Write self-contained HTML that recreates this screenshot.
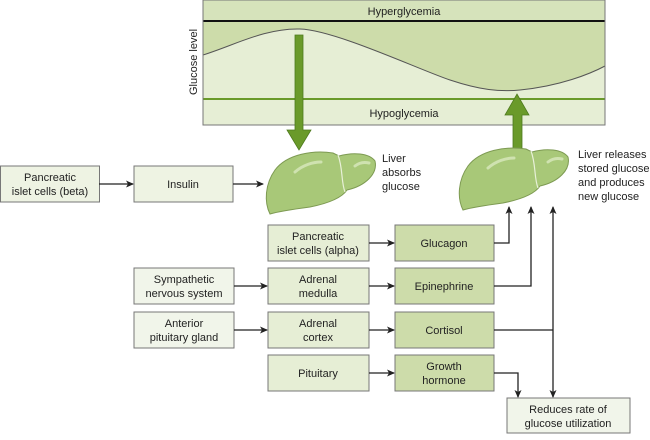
<!DOCTYPE html>
<html><head><style>
html,body{margin:0;padding:0;background:#fff;}
svg text{font-family:"Liberation Sans",sans-serif;font-size:11px;fill:#222;}
</style></head><body>
<svg width="650" height="435" viewBox="0 0 650 435" xmlns="http://www.w3.org/2000/svg">
<defs>
<marker id="a" markerWidth="8" markerHeight="8" refX="7" refY="4" orient="auto" markerUnits="userSpaceOnUse">
<path d="M0,0.5 L8,4 L0,7.5 L2,4 Z" fill="#222"/></marker>
<g id="liver">
<path d="M10,20 C22,4 48,0 68,3 L74,6 C88,2 104,3 110,11 C113,24 100,36 82,40 C76,49 60,54 45,57 C30,59 15,61 5,64 C-1,52 0,34 10,20 Z" fill="#a8c878" stroke="#7d9a52" stroke-width="1"/>
<path d="M73,5 C78,18 76,32 80,42" fill="none" stroke="#e8f0d8" stroke-width="1.2"/>
<path d="M30,22 C38,15 48,12 56,12" fill="none" stroke="#cfe2b0" stroke-width="3" stroke-linecap="round"/>
<path d="M90,16 C95,12 100,12 104,13" fill="none" stroke="#cfe2b0" stroke-width="3" stroke-linecap="round"/>
</g>
</defs>
<rect x="203" y="0" width="402" height="125" fill="#e6eed5" stroke="#777" stroke-width="1"/>
<rect x="203.5" y="0.5" width="401" height="20" fill="#d6e3bb"/>
<rect x="203.5" y="99" width="401" height="25.5" fill="#e6eed5"/>
<path d="M203,21 L203,55 C235,45 265,28 300,29 C335,30 420,70 450,80 C480,90 500,92 520,90 C560,86 590,74 605,66 L605,21 Z" fill="#cddcaa"/>
<path d="M203,55 C235,45 265,28 300,29 C335,30 420,70 450,80 C480,90 500,92 520,90 C560,86 590,74 605,66" fill="none" stroke="#555" stroke-width="1"/>
<line x1="203" y1="21" x2="605" y2="21" stroke="#111" stroke-width="2"/>
<line x1="203" y1="99" x2="605" y2="99" stroke="#6a9a2a" stroke-width="2"/>
<rect x="203" y="0" width="402" height="125" fill="none" stroke="#777" stroke-width="1"/>
<text x="404" y="15" text-anchor="middle">Hyperglycemia</text>
<text x="404" y="117" text-anchor="middle">Hypoglycemia</text>
<text transform="translate(197,62) rotate(-90)" text-anchor="middle">Glucose level</text>
<path d="M295,35 L303,35 L303,130 L311,130 L299,150 L287,130 L295,130 Z" fill="#6a9a2a" stroke="#4e7a1e" stroke-width="0.8"/>
<path d="M513,150 L522,150 L522,115 L529,115 L517,94 L505,115 L513,115 Z" fill="#6a9a2a" stroke="#4e7a1e" stroke-width="0.8"/>
<use href="#liver" transform="translate(265,150)"/>
<use href="#liver" transform="translate(458,146)"/>
<text x="382" y="162">Liver</text><text x="382" y="176">absorbs</text><text x="382" y="190">glucose</text>
<text x="578" y="158">Liver releases</text><text x="578" y="172">stored glucose</text><text x="578" y="186">and produces</text><text x="578" y="200">new glucose</text>
<g stroke="#777" stroke-width="1">
<rect x="0.5" y="166" width="99" height="36" fill="#eef3e3"/>
<rect x="134" y="166" width="99" height="36" fill="#eef3e3"/>
<rect x="134" y="268" width="100" height="36" fill="#f1f5ea"/>
<rect x="134" y="312" width="100" height="36" fill="#f1f5ea"/>
<rect x="268" y="225" width="101" height="36" fill="#e6eed5"/>
<rect x="268" y="268" width="101" height="36" fill="#e6eed5"/>
<rect x="268" y="312" width="101" height="36" fill="#e6eed5"/>
<rect x="268" y="355" width="101" height="36" fill="#e6eed5"/>
<rect x="395" y="225" width="99" height="36" fill="#cddcaa"/>
<rect x="395" y="268" width="99" height="36" fill="#cddcaa"/>
<rect x="395" y="312" width="99" height="36" fill="#cddcaa"/>
<rect x="395" y="355" width="99" height="36" fill="#cddcaa"/>
<rect x="507" y="398" width="123" height="35" fill="#f1f5ea"/>
</g>
<g text-anchor="middle">
<text x="50" y="181">Pancreatic</text><text x="50" y="195">islet cells (beta)</text>
<text x="183" y="188">Insulin</text>
<text x="184" y="283">Sympathetic</text><text x="184" y="297">nervous system</text>
<text x="184" y="327">Anterior</text><text x="184" y="341">pituitary gland</text>
<text x="318" y="240">Pancreatic</text><text x="318" y="254">islet cells (alpha)</text>
<text x="318" y="283">Adrenal</text><text x="318" y="297">medulla</text>
<text x="318" y="327">Adrenal</text><text x="318" y="341">cortex</text>
<text x="318" y="377">Pituitary</text>
<text x="444" y="247">Glucagon</text>
<text x="444" y="290">Epinephrine</text>
<text x="444" y="334">Cortisol</text>
<text x="444" y="370">Growth</text><text x="444" y="384">hormone</text>
<text x="568" y="413">Reduces rate of</text><text x="568" y="427">glucose utilization</text>
</g>
<g stroke="#222" stroke-width="1.3" fill="none">
<line x1="99" y1="184" x2="133" y2="184" marker-end="url(#a)"/>
<line x1="233" y1="184" x2="263" y2="184" marker-end="url(#a)"/>
<line x1="234" y1="286" x2="267" y2="286" marker-end="url(#a)"/>
<line x1="234" y1="330" x2="267" y2="330" marker-end="url(#a)"/>
<line x1="369" y1="243" x2="394" y2="243" marker-end="url(#a)"/>
<line x1="369" y1="286" x2="394" y2="286" marker-end="url(#a)"/>
<line x1="369" y1="330" x2="394" y2="330" marker-end="url(#a)"/>
<line x1="369" y1="373" x2="394" y2="373" marker-end="url(#a)"/>
<polyline points="494,243 509,243 509,207" marker-end="url(#a)"/>
<polyline points="494,286 531,286 531,207" marker-end="url(#a)"/>
<line x1="494" y1="330" x2="553" y2="330"/>
<line x1="553" y1="330" x2="553" y2="207" marker-end="url(#a)"/>
<line x1="553" y1="330" x2="553" y2="397" marker-end="url(#a)"/>
<polyline points="494,373 518,373 518,397" marker-end="url(#a)"/>
</g>
</svg>
</body></html>
